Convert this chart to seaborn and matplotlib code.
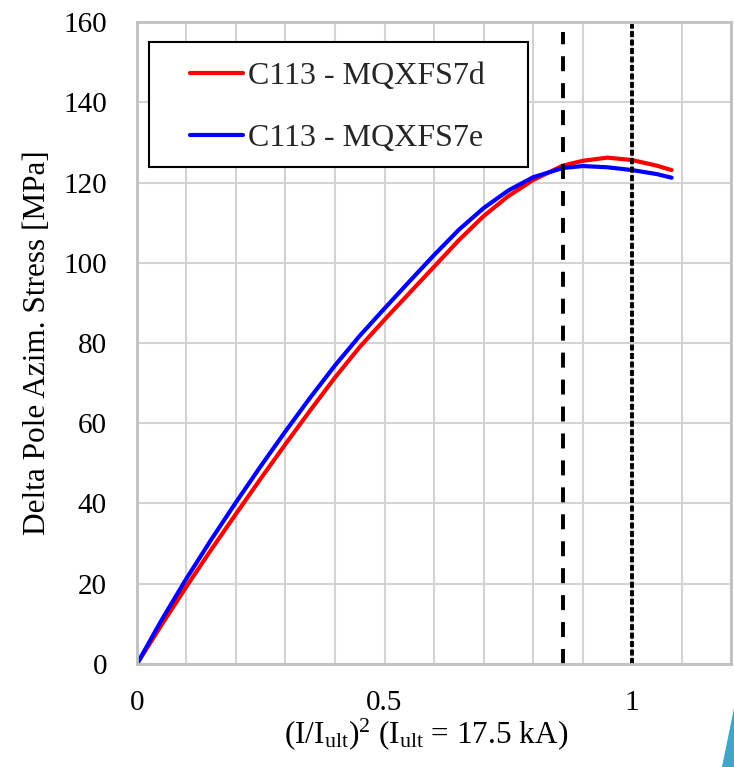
import matplotlib
matplotlib.use("Agg")
import matplotlib.pyplot as plt
import seaborn as sns
import pandas as pd
from matplotlib.patches import Rectangle, Polygon

# ---- data ----
x_red = [0.0, 0.05, 0.1, 0.15, 0.2, 0.25, 0.3, 0.35, 0.4, 0.45, 0.5, 0.55, 0.6, 0.65, 0.7,
         0.75, 0.8, 0.86, 0.9, 0.95, 1.0, 1.05, 1.08]
y_red = [0.0, 9.8, 19.3, 28.5, 37.4, 46.2, 54.8, 63.2, 71.4, 79.0, 85.8, 92.4, 99.0, 105.6, 111.6,
         116.6, 120.6, 124.2, 125.4, 126.2, 125.6, 124.2, 123.1]
x_blue = [0.0, 0.05, 0.1, 0.15, 0.2, 0.25, 0.3, 0.35, 0.4, 0.45, 0.5, 0.55, 0.6, 0.65, 0.7,
          0.75, 0.8, 0.86, 0.9, 0.95, 1.0, 1.05, 1.08]
y_blue = [0.0, 11.0, 21.3, 31.0, 40.3, 49.3, 58.0, 66.4, 74.4, 81.8, 88.6, 95.3, 101.9, 108.2, 113.6,
          118.0, 121.3, 123.6, 124.1, 123.8, 123.1, 122.1, 121.2]
series_names = ["C113 - MQXFS7d", "C113 - MQXFS7e"]
series_colors = ["#ff0000", "#0000ff"]
vline_x = [0.86, 1.0]
vline_top = [157.5, 159.5]
x_ticks = [0, 0.5, 1]
x_tick_labels = ["0", "0.5", "1"]
y_ticks = [0, 20, 40, 60, 80, 100, 120, 140, 160]

df = pd.concat([
    pd.DataFrame({"x": x_red, "y": y_red, "series": series_names[0]}),
    pd.DataFrame({"x": x_blue, "y": y_blue, "series": series_names[1]}),
], ignore_index=True)

sns.set_theme(style="white")
plt.rcParams["font.family"] = ["Liberation Serif", "DejaVu Serif"]
plt.rcParams["mathtext.fontset"] = "custom"
plt.rcParams["mathtext.rm"] = "Liberation Serif"
plt.rcParams["mathtext.it"] = "Liberation Serif:italic"
plt.rcParams["mathtext.bf"] = "Liberation Serif:bold"
plt.rcParams["lines.scale_dashes"] = False

fig = plt.figure(figsize=(7.34, 7.67), dpi=100)
ax = fig.add_axes([0.1866, 0.1343, 0.8094, 0.8370])

sns.lineplot(data=df, x="x", y="y", hue="series", palette=series_colors,
             hue_order=series_names, lw=3, ax=ax, sort=False, estimator=None)

# vertical reference lines
ax.vlines(vline_x[0], 0, vline_top[0], colors="black", lw=2.8, linestyles=[(0, (10.8, 8.6))])
ax.vlines(vline_x[1], 0, vline_top[1], colors="black", lw=2.8, linestyles=[(0, (4.3, 1.8))])

ax.set_xlim(0, 1.2)
ax.set_ylim(0, 160)
ax.set_xticks(x_ticks)
ax.set_xticklabels(x_tick_labels)
ax.set_xticks([i / 10 for i in range(13)], minor=True)
ax.set_yticks(y_ticks)
ax.grid(True, which="both", color="#d3d3d3", lw=1.5)
ax.set_axisbelow(True)
ax.tick_params(axis="both", which="both", length=0, labelsize=21, colors="black")
ax.tick_params(axis="y", pad=21.6)
ax.tick_params(axis="x", pad=19)
for s in ax.spines.values():
    s.set_color("#c0c0c0")
    s.set_linewidth(2)

ax.set_xlabel(r"(I/I$_{\mathrm{ult}}$)$^{2}$ (I$_{\mathrm{ult}}$ = 17.5 kA)", fontsize=22.5, labelpad=1, color="black")
ax.xaxis.set_label_coords(0.487, -0.082)
ax.set_ylabel("Delta Pole Azim. Stress [MPa]", fontsize=22.5, labelpad=8, color="black")

handles, labels = ax.get_legend_handles_labels()
leg = ax.legend(handles, labels, loc="upper left", bbox_to_anchor=(0.0892, 0.9377),
                frameon=False, fontsize=23, handlelength=1.65, handletextpad=0.16,
                labelspacing=1.02, borderpad=0, borderaxespad=0)
for h in leg.get_lines():
    h.set_linewidth(3)
ax.add_patch(Rectangle((0.0202, 0.774), 0.638, 0.195, transform=ax.transAxes,
                       fill=True, facecolor="white", edgecolor="black", lw=1.5, zorder=4))
leg.set_zorder(5)

# slide decoration in the bottom-right corner
fig.patches.append(Polygon([(722 / 734, 0), (1.0, 59 / 767), (1.0, 0)], closed=True,
                           transform=fig.transFigure, facecolor="#42a5c8", edgecolor="none"))

fig.savefig("out.png", dpi=100)
